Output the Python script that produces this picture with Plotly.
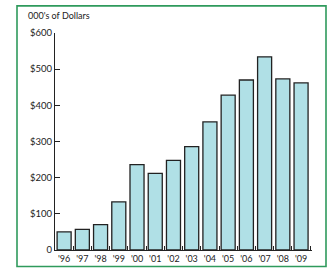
import plotly.graph_objects as go

years = ["'96", "'97", "'98", "'99", "'00", "'01", "'02", "'03", "'04", "'05", "'06", "'07", "'08", "'09"]
values = [50, 57, 70, 133, 236, 212, 248, 286, 354, 428, 470, 534, 473, 462]
ytick_vals = [0, 100, 200, 300, 400, 500, 600]
ytick_text = ["0", "$100", "$200", "$300", "$400", "$500", "$600"]

W, H = 329, 276
L, R, T, B = 55, 17, 33, 19
pw, ph = W - L - R, H - T - B

def px_x(p):
    return (p - L) / pw

def px_y(p):
    return (H - B - p) / ph

fig = go.Figure(go.Bar(
    x=years, y=values,
    marker=dict(color="#b0e0e6", line=dict(color="#222222", width=1.3)),
))

font = dict(family="Lato, Open Sans, sans-serif", size=9, color="#222222")

fig.update_layout(
    width=W, height=H,
    margin=dict(l=L, r=R, t=T, b=B),
    paper_bgcolor="white", plot_bgcolor="white",
    bargap=0.23,
    showlegend=False,
    font=font,
    xaxis=dict(
        type="category", range=[-0.5, 13.6],
        showline=True, linecolor="#222222", linewidth=1.2,
        ticks="inside", ticklen=4, tickcolor="#222222", tickson="boundaries",
        showgrid=False, zeroline=False, fixedrange=True,
        tickangle=0, tickfont=dict(size=9),
    ),
    yaxis=dict(
        range=[0, 600],
        tickvals=ytick_vals, ticktext=ytick_text,
        showline=True, linecolor="#222222", linewidth=1.2,
        ticks="inside", ticklen=5, tickcolor="#222222",
        showgrid=False, zeroline=False,
        tickfont=dict(size=9.5),
    ),
    shapes=[dict(
        type="rect", xref="paper", yref="paper",
        x0=px_x(17), x1=px_x(326), y0=px_y(274), y1=px_y(5),
        line=dict(color="#2f9a5c", width=1.6), fillcolor="rgba(0,0,0,0)",
        layer="above",
    )],
    annotations=[dict(
        text="000's of Dollars", xref="paper", yref="paper",
        x=px_x(26), y=px_y(15), xanchor="left", yanchor="middle",
        showarrow=False, font=dict(size=9, color="#222222"),
    )],
)

fig.write_html(
    "out.html",
    config={"displayModeBar": False},
    post_script="document.body.style.margin='0';document.body.style.overflow='hidden';",
)
